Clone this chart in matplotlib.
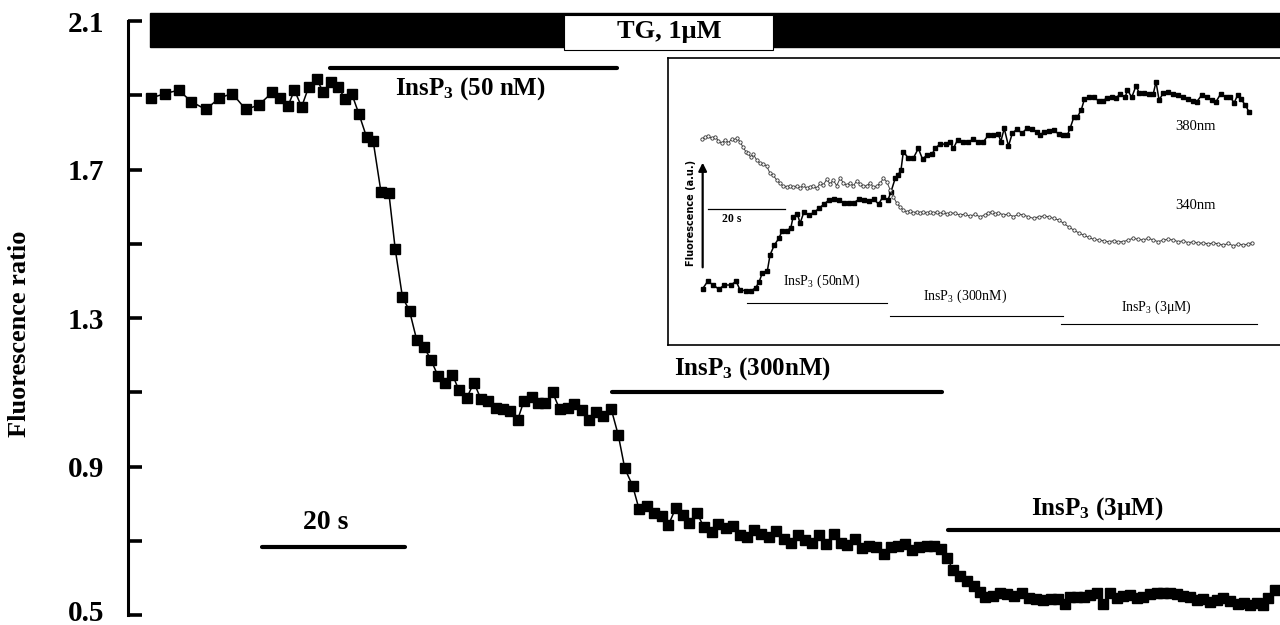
import numpy as np
import matplotlib
matplotlib.use("Agg")
import matplotlib.pyplot as plt
from matplotlib.patches import Rectangle
from matplotlib.transforms import ScaledTranslation

plt.rcParams['font.family'] = ['Liberation Serif', 'DejaVu Serif']
plt.rcParams['mathtext.default'] = 'regular'

# main trace: time (s) and fura-2 fluorescence ratio
time = [0.2, 2.1, 4.0, 5.8, 7.8, 9.7, 11.5, 13.4, 15.2, 17.1,
        18.2, 19.3, 20.2, 21.2, 22.2, 23.3, 24.2, 25.3, 26.3, 27.3,
        28.2, 29.2, 30.3, 31.2, 32.3, 33.4, 34.3, 35.3, 36.3, 37.3,
        38.3, 39.3, 40.3, 41.3, 42.3, 43.2, 44.3, 45.3, 46.3, 47.3,
        48.4, 49.4, 50.4, 51.4, 52.3, 53.4, 54.3, 55.3, 56.3, 57.3,
        58.4, 59.3, 60.4, 61.4, 62.4, 63.4, 64.5, 65.5, 66.4, 67.5,
        68.4, 69.5, 70.5, 71.6, 72.5, 73.5, 74.5, 75.4, 76.5, 77.5,
        78.6, 79.5, 80.5, 81.5, 82.5, 83.5, 84.5, 85.5, 86.6, 87.6,
        88.6, 89.6, 90.6, 91.6, 92.6, 93.6, 94.6, 95.6, 96.6, 97.5,
        98.6, 99.6, 100.6, 101.6, 102.7, 103.6, 104.6, 105.6, 106.6, 107.6,
        108.6, 109.6, 110.6, 111.5, 112.3, 113.3, 114.2, 115.2, 116.1, 116.8,
        117.9, 118.9, 119.9, 120.8, 121.9, 123.0, 123.9, 124.9, 126.0, 127.0,
        128.0, 128.7, 129.6, 130.6, 131.5, 132.5, 133.3, 134.3, 135.2, 136.1,
        137.1, 138.0, 138.9, 139.9, 140.8, 141.7, 142.7, 143.6, 144.5, 145.5,
        146.4, 147.3, 148.3, 149.2, 150.1, 151.1, 152.1, 153.0, 153.9, 154.8,
        155.7, 156.4, 157.3]
ratio = [1.893, 1.905, 1.914, 1.883, 1.862, 1.893, 1.905, 1.862, 1.874, 1.908,
         1.893, 1.872, 1.914, 1.869, 1.923, 1.944, 1.910, 1.935, 1.923, 1.890,
         1.905, 1.851, 1.787, 1.778, 1.640, 1.638, 1.485, 1.357, 1.319, 1.241,
         1.223, 1.187, 1.143, 1.126, 1.147, 1.106, 1.085, 1.126, 1.081, 1.077,
         1.058, 1.054, 1.050, 1.025, 1.077, 1.088, 1.070, 1.070, 1.100, 1.054,
         1.057, 1.068, 1.052, 1.025, 1.048, 1.035, 1.055, 0.984, 0.895, 0.848,
         0.785, 0.794, 0.776, 0.767, 0.742, 0.787, 0.769, 0.749, 0.774, 0.736,
         0.724, 0.745, 0.734, 0.740, 0.716, 0.709, 0.729, 0.717, 0.711, 0.727,
         0.704, 0.695, 0.716, 0.702, 0.695, 0.716, 0.690, 0.718, 0.695, 0.689,
         0.704, 0.680, 0.687, 0.684, 0.664, 0.682, 0.686, 0.691, 0.675, 0.684,
         0.687, 0.685, 0.677, 0.654, 0.621, 0.605, 0.592, 0.578, 0.563, 0.549,
         0.551, 0.559, 0.557, 0.551, 0.559, 0.545, 0.542, 0.540, 0.542, 0.542,
         0.530, 0.548, 0.549, 0.548, 0.554, 0.560, 0.530, 0.560, 0.545, 0.551,
         0.554, 0.545, 0.549, 0.557, 0.560, 0.559, 0.560, 0.557, 0.551, 0.548,
         0.540, 0.542, 0.536, 0.540, 0.545, 0.539, 0.530, 0.532, 0.527, 0.532,
         0.527, 0.545, 0.567]

yticks = [0.5, 0.7, 0.9, 1.1, 1.3, 1.5, 1.7, 1.9, 2.1]
ylabels = ['0.5', '', '0.9', '', '1.3', '', '1.7', '', '2.1']

# inset: raw 380 nm and 340 nm signals (arbitrary units)
t380 = [0.7, 2.0, 3.5, 4.9, 6.3, 8.0, 9.4, 10.4, 11.9, 13.2,
        14.5, 15.4, 16.2, 17.5, 18.2, 19.3, 20.5, 21.3, 22.5, 23.6,
        24.2, 25.3, 26.0, 27.0, 28.3, 29.6, 30.9, 32.2, 33.5, 34.8,
        36.1, 37.4, 38.7, 40.0, 41.3, 42.6, 43.9, 45.1, 46.4, 47.5,
        48.8, 49.6, 50.7, 51.4, 52.2, 52.8, 54.1, 55.4, 56.7, 57.8,
        58.9, 60.2, 61.1, 62.3, 63.8, 64.9, 65.8, 66.9, 68.4, 69.7,
        71.0, 72.3, 73.6, 74.9, 76.2, 77.5, 78.1, 79.0, 80.1, 81.1,
        82.3, 83.6, 84.9, 86.2, 87.5, 88.3, 89.4, 90.6, 91.9, 93.1,
        94.2, 95.4, 96.1, 97.1, 98.0, 99.0, 99.8, 101.1, 102.2, 103.5,
        104.6, 105.6, 106.9, 108.0, 109.1, 110.4, 111.0, 112.1, 113.2, 114.1,
        115.3, 116.6, 117.7, 118.4, 119.2, 120.3, 121.6, 122.8, 124.1, 125.3,
        126.6, 127.9, 129.0, 130.3, 131.6, 132.9, 134.0, 135.2, 136.5, 137.7,
        138.7, 139.6, 140.5, 141.6, 142.6]
f380 = [19.6, 22.2, 20.9, 19.4, 20.9, 20.9, 22.2, 19.2, 18.9, 18.8,
        20.0, 22.1, 25.2, 25.9, 31.4, 34.8, 37.2, 39.7, 39.7, 40.9,
        44.7, 45.6, 42.4, 46.4, 45.3, 46.2, 47.6, 49.1, 50.5, 50.8,
        50.5, 49.6, 49.6, 49.6, 50.8, 50.5, 50.2, 50.8, 49.1, 51.7,
        50.5, 53.4, 58.1, 59.2, 61.0, 67.4, 65.1, 65.1, 68.5, 64.7,
        66.2, 66.4, 68.5, 70.0, 70.0, 70.8, 68.5, 71.5, 70.8, 70.8,
        71.7, 70.8, 70.8, 73.2, 73.2, 73.5, 70.8, 75.5, 69.3, 73.8,
        75.2, 73.8, 75.5, 75.2, 74.3, 73.2, 74.3, 74.7, 74.9, 73.5,
        73.2, 73.2, 75.5, 79.5, 79.5, 81.9, 85.6, 86.3, 86.3, 85.1,
        85.1, 86.0, 86.3, 86.0, 87.5, 86.3, 88.9, 86.3, 90.2, 87.7,
        87.7, 87.5, 87.5, 91.7, 85.4, 87.7, 88.0, 87.5, 87.1, 86.3,
        85.6, 85.1, 84.8, 87.1, 86.5, 85.4, 84.8, 87.5, 86.5, 86.3,
        84.4, 87.1, 85.6, 83.6, 81.1]

t340 = [0.4, 1.3, 2.2, 3.0, 3.9, 4.8, 5.6, 6.5, 7.4, 8.2,
        9.1, 9.7, 10.4, 11.2, 11.9, 12.5, 13.2, 13.8, 14.7, 15.6,
        16.4, 17.3, 18.2, 19.0, 19.9, 20.8, 21.6, 22.5, 23.4, 24.2,
        25.1, 26.0, 26.8, 27.7, 28.6, 29.4, 30.3, 31.2, 32.0, 32.9,
        33.8, 34.6, 35.5, 36.4, 37.2, 38.1, 39.0, 39.8, 40.7, 41.6,
        42.4, 43.3, 44.2, 45.0, 45.9, 46.8, 47.6, 48.5, 49.4, 50.2,
        51.1, 51.9, 52.8, 53.7, 54.5, 55.4, 56.3, 57.1, 58.0, 58.9,
        59.7, 60.6, 61.5, 62.3, 63.2, 64.1, 64.9, 66.2, 67.5, 68.8,
        70.1, 71.4, 72.7, 74.0, 74.9, 75.8, 76.6, 77.5, 78.8, 80.1,
        81.4, 82.7, 84.0, 85.3, 86.6, 87.9, 89.2, 90.5, 91.8, 93.1,
        94.4, 95.7, 97.0, 98.3, 99.6, 100.9, 102.2, 103.5, 104.8, 106.1,
        107.4, 108.6, 109.9, 111.2, 112.5, 113.8, 115.1, 116.4, 117.7, 119.0,
        120.3, 121.6, 122.9, 124.2, 125.5, 126.8, 128.1, 129.4, 130.7, 132.0,
        133.3, 134.6, 135.9, 137.2, 138.5, 139.8, 141.1, 142.4, 143.3]
f340 = [71.7, 72.4, 72.8, 72.0, 72.6, 71.2, 70.3, 71.4, 70.5, 71.7,
        71.4, 72.0, 70.8, 68.9, 67.4, 66.8, 65.4, 66.6, 64.5, 63.3,
        63.1, 62.4, 59.8, 59.2, 57.5, 56.3, 55.4, 55.2, 55.4, 54.9,
        55.4, 54.6, 55.6, 54.6, 55.2, 55.4, 54.6, 56.3, 55.7, 57.7,
        56.1, 57.5, 55.5, 58.1, 56.6, 55.6, 56.6, 55.4, 57.2, 56.1,
        55.4, 55.4, 56.6, 54.9, 55.4, 56.3, 58.1, 56.9, 54.0, 51.7,
        49.4, 48.2, 47.0, 46.4, 46.8, 46.1, 46.4, 46.1, 46.4, 45.9,
        46.4, 45.9, 46.4, 45.6, 46.4, 45.6, 46.0, 45.9, 45.3, 45.6,
        44.9, 45.5, 44.7, 45.3, 46.1, 46.4, 45.6, 46.1, 45.3, 45.6,
        44.7, 45.6, 45.3, 44.7, 44.1, 44.7, 44.9, 44.7, 44.1, 43.6,
        42.4, 41.2, 40.1, 39.1, 38.3, 37.5, 36.8, 36.6, 36.3, 36.0,
        36.3, 36.0, 36.0, 36.6, 37.2, 36.8, 36.6, 37.2, 36.6, 36.0,
        36.6, 36.8, 36.6, 36.0, 36.3, 35.6, 36.0, 35.4, 35.6, 35.2,
        35.6, 35.2, 34.8, 35.4, 34.5, 35.2, 34.8, 35.2, 35.6]

fig = plt.figure(figsize=(12.8, 6.25), dpi=100)
ax = fig.add_axes([0.1, 0.0, 0.9, 1.0])
ax.set_xlim(-3.08, 158.04)
ax.set_ylim(0.473, 2.157)

# main trace
ax.plot(time, ratio, '-s', color='black', lw=1.1, ms=6.8, zorder=5, clip_on=False)

# axis styling: only the left spine, inward ticks
for s in ['top', 'right', 'bottom']:
    ax.spines[s].set_visible(False)
ax.spines['left'].set_bounds(0.5, 2.1)
ax.spines['left'].set_linewidth(2.2)
ax.set_xticks([])
ax.set_yticks(yticks)
ax.set_yticklabels(ylabels, fontsize=21, fontweight='bold')
ax.tick_params(axis='y', direction='in', length=10, width=2.6, pad=17)
# lift the lowest label a little so it stays inside the picture
lab0 = ax.get_yticklabels()[0]
lab0.set_transform(lab0.get_transform() + ScaledTranslation(0, 3 / 72, fig.dpi_scale_trans))
ax.set_ylabel('Fluorescence ratio', fontsize=19, fontweight='bold')
ax.yaxis.set_label_coords(-0.084, 0.466)

# thapsigargin bar on top
ax.add_patch(Rectangle((0, 2.030), 160, 0.0915, facecolor='black', edgecolor='black', clip_on=False))
ax.add_patch(Rectangle((57.9, 2.022), 29.2, 0.094, facecolor='white', edgecolor='black', lw=0.8, zorder=3))
ax.text(72.6, 2.072, 'TG, 1μM', fontsize=19, fontweight='bold', ha='center', va='center', zorder=4)

# InsP3 application bars
ax.plot([25.2, 65.3], [1.973, 1.973], color='black', lw=3, solid_capstyle='round')
ax.text(44.8, 1.917, 'InsP$_3$ (50 nM)', fontsize=18, fontweight='bold', ha='center', va='center')
ax.plot([64.6, 110.8], [1.101, 1.101], color='black', lw=3, solid_capstyle='round')
ax.text(84.2, 1.165, 'InsP$_3$ (300nM)', fontsize=18, fontweight='bold', ha='center', va='center')
ax.plot([111.6, 160], [0.729, 0.729], color='black', lw=3, solid_capstyle='round', clip_on=False)
ax.text(132.5, 0.788, 'InsP$_3$ (3μM)', fontsize=18, fontweight='bold', ha='center', va='center')

# time scale bar
ax.plot([15.7, 35.7], [0.683, 0.683], color='black', lw=3, solid_capstyle='round')
ax.text(24.6, 0.750, '20 s', fontsize=20, fontweight='bold', ha='center', va='center')

# inset with the single-wavelength signals
axi = fig.add_axes([668 / 1280, 280 / 625, 612 / 1280, 287 / 625])
axi.set_xlim(-8.3, 150.6)
axi.set_ylim(0, 100)
axi.set_xticks([])
axi.set_yticks([])
axi.spines['right'].set_visible(False)
for s in ['left', 'top', 'bottom']:
    axi.spines[s].set_linewidth(1.2)

axi.plot(t380, f380, '-s', color='black', lw=1.1, ms=3)
axi.plot(t340, f340, '-o', color='#444444', lw=0.7, ms=2.4, mfc='white', mec='#333333', mew=0.6)

axi.annotate('', xy=(0.7, 64.5), xytext=(0.7, 26.1),
             arrowprops=dict(arrowstyle='-|>', color='black', lw=1.6, mutation_scale=12))
axi.text(-2.3, 46.0, 'Fluorescence (a.u.)', rotation=90, fontsize=7, fontweight='bold',
         family='DejaVu Sans', ha='center', va='center')
axi.plot([2.1, 22.1], [47.4, 47.4], color='black', lw=0.9)
axi.text(8.2, 43.8, '20 s', fontsize=8.5, fontweight='bold', ha='center', va='center')
axi.text(128.6, 76.0, '380nm', fontsize=10.5, ha='center', va='center')
axi.text(128.6, 48.5, '340nm', fontsize=10.5, ha='center', va='center')

axi.plot([12.1, 48.6], [14.5, 14.5], color='black', lw=0.8)
axi.text(31.5, 22.1, 'InsP$_3$ (50nM)', fontsize=10, ha='center', va='center')
axi.plot([49.4, 94.2], [10.2, 10.2], color='black', lw=0.8)
axi.text(68.8, 16.8, 'InsP$_3$ (300nM)', fontsize=10, ha='center', va='center')
axi.plot([93.7, 144.6], [7.3, 7.3], color='black', lw=0.8)
axi.text(118.4, 13.3, 'InsP$_3$ (3μM)', fontsize=10, ha='center', va='center')

fig.savefig('out.png', dpi=100)
